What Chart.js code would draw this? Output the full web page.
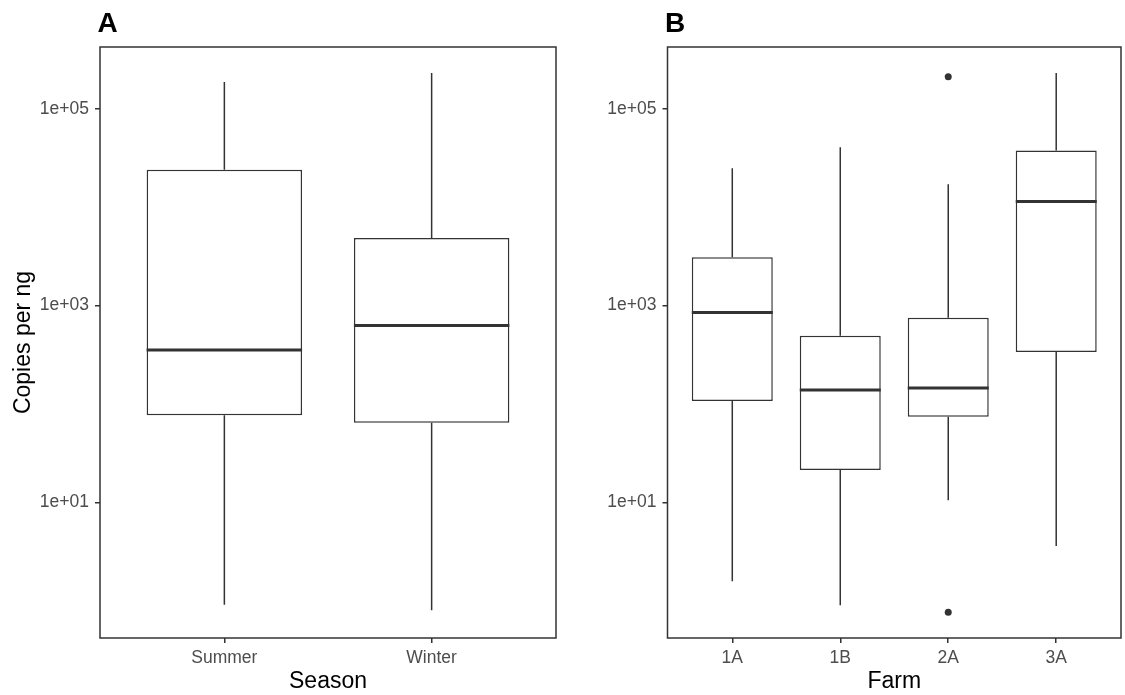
<!DOCTYPE html>
<html>
<head>
<meta charset="utf-8">
<script src="https://cdn.jsdelivr.net/npm/chart.js@4.4.0/dist/chart.umd.min.js"></script>
<style>
  html, body { margin: 0; padding: 0; background: #fff; }
  .wrap { position: relative; width: 1125px; height: 695px; }
  canvas { position: absolute; top: 0; }
  #chartA { left: 0; }
  #chartB { left: 560px; }
</style>
</head>
<body>
<div class="wrap">
  <canvas id="chartA" width="560" height="695"></canvas>
  <canvas id="chartB" width="565" height="695"></canvas>
</div>
<script>
// copies per ng: whisker ends, quartiles and medians for each group
const seasons = ['Summer', 'Winter'];
const seasonLow = [0.91, 0.80];
const seasonQ1 = [76.7, 64.5];
const seasonMedian = [354, 627];
const seasonQ3 = [24000, 4870];
const seasonHigh = [187000, 230700];
const seasonOutliers = [];

const farms = ['1A', '1B', '2A', '3A'];
const farmLow = [1.58, 0.90, 10.5, 3.6];
const farmQ1 = [107, 21.3, 74.1, 337];
const farmMedian = [848, 139, 145, 11400];
const farmQ3 = [3100, 494, 754, 37700];
const farmHigh = [24900, 40700, 17100, 230700];
// [group index, value]
const farmOutliers = [[2, 211900], [2, 0.764]];

const yTicks = [10, 1000, 100000];
const yTickLabels = ['1e+01', '1e+03', '1e+05'];
const yMin = 0.418;
const yMax = 424600;

const FONT = '"Liberation Sans", Arial, sans-serif';
const LINE = '#333333';
const BOX_W = 0.75;

// tag letter + full frame around the plotting area
const panelFrame = {
  id: 'panelFrame',
  afterDatasetsDraw(chart, args, opts) {
    const { ctx, chartArea: a } = chart;
    ctx.save();
    ctx.strokeStyle = LINE;
    ctx.lineWidth = 1.5;
    ctx.strokeRect(a.left, a.top, a.right - a.left, a.bottom - a.top);
    ctx.fillStyle = '#000';
    ctx.font = 'bold 28px ' + FONT;
    ctx.textBaseline = 'alphabetic';
    ctx.textAlign = 'left';
    ctx.fillText(opts.tag, a.left - 2.5, 32);
    ctx.restore();
  }
};

function makePanel(id, p) {
  const n = p.groups.length;
  const whiskers = [];
  const medians = [];
  p.groups.forEach((g, i) => {
    const x = i + 1;
    whiskers.push({ x, y: p.low[i] }, { x, y: p.q1[i] }, { x, y: null },
                  { x, y: p.q3[i] }, { x, y: p.high[i] }, { x, y: null });
    medians.push({ x: x - BOX_W / 2, y: p.median[i] }, { x: x + BOX_W / 2, y: p.median[i] },
                 { x, y: null });
  });

  const tickFont = { family: FONT, size: 17.5 };
  const tickGrid = {
    display: true, drawOnChartArea: false, drawTicks: true, offset: false,
    tickLength: 5, color: LINE, lineWidth: 1.5
  };

  return new Chart(document.getElementById(id), {
    type: 'bar',
    data: {
      datasets: [
        {
          type: 'line', label: 'median', data: medians, order: 0,
          borderColor: LINE, borderWidth: 3, pointRadius: 0, spanGaps: false
        },
        {
          type: 'line', label: 'outliers', order: 0, showLine: false,
          data: p.outliers.map(o => ({ x: o[0] + 1, y: o[1] })),
          pointRadius: 3.5, pointBackgroundColor: LINE, pointBorderWidth: 0
        },
        {
          type: 'line', label: 'whiskers', data: whiskers, order: 1,
          borderColor: LINE, borderWidth: 1.5, pointRadius: 0, spanGaps: false
        },
        {
          type: 'bar', label: 'box', order: 2,
          data: p.groups.map((g, i) => ({ x: i + 1, y: [p.q1[i], p.q3[i]] })),
          backgroundColor: '#ffffff', borderColor: LINE, borderWidth: 1.5,
          borderSkipped: false, categoryPercentage: 1, barPercentage: BOX_W
        }
      ]
    },
    options: {
      responsive: false,
      animation: false,
      layout: { padding: { top: 47, right: p.padRight, bottom: 0, left: 0 } },
      plugins: {
        legend: { display: false },
        tooltip: { enabled: false },
        panelFrame: { tag: p.tag }
      },
      scales: {
        x: {
          type: 'linear',
          offset: false,
          min: 0.4,
          max: n + 0.6,
          afterBuildTicks: s => { s.ticks = p.groups.map((g, i) => ({ value: i + 1 })); },
          afterFit: s => { s.height = 57; },
          ticks: {
            callback: (v, i) => p.groups[i],
            color: '#4d4d4d', font: tickFont, padding: 5, maxRotation: 0, autoSkip: false
          },
          grid: tickGrid,
          border: { display: false },
          title: {
            display: true, text: p.xTitle, color: '#000',
            font: { family: FONT, size: 23 }, padding: { top: 0, bottom: 0 }
          }
        },
        y: {
          type: 'logarithmic',
          min: yMin,
          max: yMax,
          afterBuildTicks: s => { s.ticks = yTicks.map(v => ({ value: v })); },
          afterFit: s => { s.width = p.axisWidth; },
          ticks: {
            callback: (v, i) => yTickLabels[i],
            color: '#4d4d4d', font: tickFont, padding: 6
          },
          grid: tickGrid,
          border: { display: false },
          title: {
            display: !!p.yTitle, text: p.yTitle || '', color: '#000',
            font: { family: FONT, size: 23 }, padding: { top: 10, bottom: 0 }
          }
        }
      }
    },
    plugins: [panelFrame]
  });
}

makePanel('chartA', {
  tag: 'A', groups: seasons, low: seasonLow, q1: seasonQ1, median: seasonMedian,
  q3: seasonQ3, high: seasonHigh, outliers: seasonOutliers,
  xTitle: 'Season', yTitle: 'Copies per ng', axisWidth: 100, padRight: 4
});

makePanel('chartB', {
  tag: 'B', groups: farms, low: farmLow, q1: farmQ1, median: farmMedian,
  q3: farmQ3, high: farmHigh, outliers: farmOutliers,
  xTitle: 'Farm', yTitle: null, axisWidth: 107.5, padRight: 2
});
</script>
</body>
</html>
